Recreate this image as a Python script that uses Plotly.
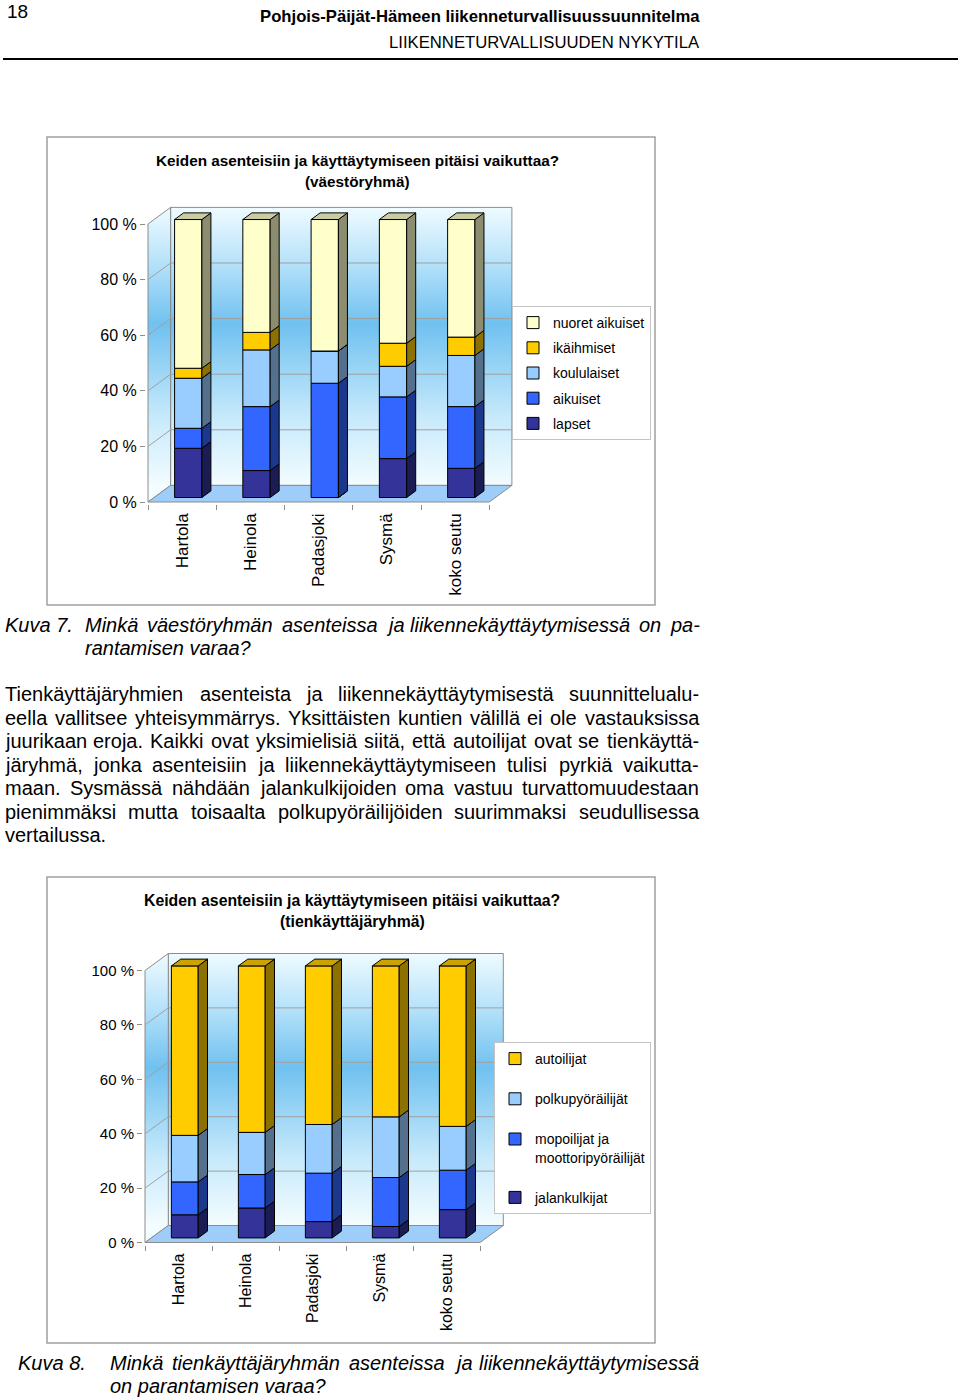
import numpy as np
import plotly.graph_objects as go

PAGE_W, PAGE_H = 960, 1399
FONT = "Liberation Sans, Arial, sans-serif"

# ---- data ----
places = ["Hartola", "Heinola", "Padasjoki", "Sysmä", "koko seutu"]
pct_ticks = [0, 20, 40, 60, 80, 100]
pct_labels = ["0 %", "20 %", "40 %", "60 %", "80 %", "100 %"]

# Kuva 7, väestöryhmät (bottom -> top), % of answers
groups7 = ["lapset", "aikuiset", "koululaiset", "ikäihmiset", "nuoret aikuiset"]
lapset = [17.7, 9.7, 0.0, 14.0, 10.5]
aikuiset = [7.2, 23.0, 41.1, 22.2, 22.2]
koululaiset = [18.0, 20.4, 11.6, 11.0, 18.4]
ikaihmiset = [3.6, 6.3, 0.0, 8.3, 6.6]
nuoret_aikuiset = [53.5, 40.6, 47.3, 44.5, 42.3]

# Kuva 8, tienkäyttäjäryhmät (bottom -> top)
groups8 = ["jalankulkijat", "mopoilijat ja<br>moottoripyöräilijät", "polkupyöräilijät", "autoilijat"]
jalankulkijat = [8.5, 11.0, 6.0, 4.2, 10.4]
mopoilijat = [12.1, 12.3, 17.8, 18.0, 14.5]
polkupyorailijat = [17.1, 15.5, 17.9, 22.3, 16.1]
autoilijat = [62.3, 61.2, 58.3, 55.5, 59.0]

colors7 = ["#333399", "#3366ff", "#99ccff", "#ffcc00", "#ffffcc"]
colors8 = ["#333399", "#3366ff", "#99ccff", "#ffcc00"]

header_title = "Pohjois-Päijät-Hämeen liikenneturvallisuussuunnitelma"
header_sub = "LIIKENNETURVALLISUUDEN NYKYTILA"
chart_title = "Keiden asenteisiin ja käyttäytymiseen pitäisi vaikuttaa?"
paragraph = [
    "Tienkäyttäjäryhmien asenteista ja liikennekäyttäytymisestä suunnittelualu-",
    "eella vallitsee yhteisymmärrys. Yksittäisten kuntien välillä ei ole vastauksissa",
    "juurikaan eroja. Kaikki ovat yksimielisiä siitä, että autoilijat ovat se tienkäyttä-",
    "järyhmä, jonka asenteisiin ja liikennekäyttäytymiseen tulisi pyrkiä vaikutta-",
    "maan. Sysmässä nähdään jalankulkijoiden oma vastuu turvattomuudestaan",
    "pienimmäksi mutta toisaalta polkupyöräilijöiden suurimmaksi seudullisessa",
    "vertailussa.",
]
paragraph_y = [694, 718, 741, 765, 788, 812, 835]

# Arial / Liberation Sans advance widths (1/1000 em), used for justified lines
ARIAL = dict(zip("abcdefghijklmnopqrstuvwxyzäö",
                 [556, 556, 500, 556, 556, 278, 556, 556, 222, 222, 500, 222, 833, 556,
                  556, 556, 556, 333, 500, 278, 556, 500, 722, 500, 500, 500, 556, 556]))
ARIAL.update({" ": 278, ".": 278, ",": 278, "-": 333, "?": 556,
              "K": 667, "M": 833, "T": 611, "Y": 667, "S": 667})

fig = go.Figure()


def pos(x, y):
    # page pixel -> paper fraction
    return x / PAGE_W, 1 - y / PAGE_H


def note(x, y, s, size, anchor="left"):
    px, py = pos(x, y)
    fig.add_annotation(x=px, y=py, xref="paper", yref="paper", text=s, showarrow=False,
                       xanchor=anchor, yanchor="middle", borderpad=0, borderwidth=0,
                       font=dict(family=FONT, size=size, color="black"))


def text_w(s, size):
    return sum(ARIAL.get(c, 556) for c in s) * size / 1000


def justified(x0, x1, y, line, size, italic=False):
    words = line.split()
    gap = (x1 - x0 - sum(text_w(w, size) for w in words)) / (len(words) - 1)
    x = x0
    for w in words:
        note(x, y, f"<i>{w}</i>" if italic else w, size)
        x += text_w(w, size) + gap


def shade(c, k):
    r, g, b = (int(c[i:i + 2], 16) for i in (1, 3, 5))
    return f"rgb({int(r * k)},{int(g * k)},{int(b * k)})"


wall_scale = [[0, "#f3fcff"], [0.25, "#c6e9fb"], [0.58, "#70c1f0"], [0.8, "#b6e2fa"], [1, "#effbff"]]


def add_chart(idx, series, names, colors, geo, legend_id, tick_size, label_size):
    # geo: front-left x px, category width px, 0 % y px, px per %, depth dx px, depth dy px
    X0, W, Y0, K, DX, DY = geo
    dx, dy = DX / W, DY / K
    pad = 2
    xr = [-pad / W, 5 + dx + pad / W]
    yr = [-pad / K, 100 + dy + pad / K]
    xdom = [(X0 + v * W) / PAGE_W for v in xr]
    ydom = [1 - (Y0 - v * K) / PAGE_H for v in yr]
    b, o = 2 * idx - 1, 2 * idx
    bx, by = ("x", "y") if b == 1 else (f"x{b}", f"y{b}")
    ox, oy = f"x{o}", f"y{o}"
    bkey = "" if b == 1 else str(b)

    fig.update_layout(**{
        f"xaxis{bkey}": dict(domain=xdom, range=xr, anchor=by, showgrid=False, zeroline=False,
                             showline=False, tickmode="array", tickvals=np.arange(5) + 0.5,
                             ticktext=places, tickangle=-90, ticks="", ticklabelstandoff=5,
                             tickfont=dict(family=FONT, size=label_size, color="black"),
                             minor=dict(ticks="outside", tickmode="array", tickvals=list(range(6)),
                                        ticklen=5, tickcolor="#8c8c8c", showgrid=False)),
        f"yaxis{bkey}": dict(domain=ydom, range=yr, anchor=bx, showgrid=False, zeroline=False,
                             showline=False, tickmode="array", tickvals=pct_ticks, ticktext=pct_labels,
                             ticks="outside", ticklen=5, tickcolor="#8c8c8c",
                             tickfont=dict(family=FONT, size=tick_size, color="black")),
        f"xaxis{o}": dict(overlaying=bx, anchor=oy, range=xr, visible=False),
        f"yaxis{o}": dict(overlaying=by, anchor=ox, range=yr, visible=False),
    })

    grad = dict(type="vertical", start=dy, stop=100 + dy, colorscale=wall_scale)
    edge = dict(color="#8c8c8c", width=1)
    # back wall, side wall, grid, floor
    fig.add_trace(go.Scatter(x=[dx, 5 + dx, 5 + dx, dx, dx], y=[dy, dy, 100 + dy, 100 + dy, dy],
                             fill="toself", fillgradient=grad, line=edge, mode="lines",
                             showlegend=False, hoverinfo="skip", xaxis=bx, yaxis=by))
    fig.add_trace(go.Scatter(x=[0, dx, dx, 0, 0], y=[0, dy, 100 + dy, 100, 0],
                             fill="toself", fillgradient=grad, line=edge, mode="lines",
                             showlegend=False, hoverinfo="skip", xaxis=bx, yaxis=by))
    gx, gy = [], []
    for v in pct_ticks[1:-1]:
        gx += [0, dx, 5 + dx, None]
        gy += [v, v + dy, v + dy, None]
    fig.add_trace(go.Scatter(x=gx, y=gy, mode="lines", line=dict(color="#a0a0a0", width=1),
                             showlegend=False, hoverinfo="skip", xaxis=bx, yaxis=by))
    fig.add_trace(go.Scatter(x=[0, 5, 5 + dx, dx, 0], y=[0, 0, dy, dy, 0],
                             fill="toself", fillcolor="#9dcdf8", line=edge, mode="lines",
                             showlegend=False, hoverinfo="skip", xaxis=bx, yaxis=by))

    # stacked 3-D bars: front faces as bars, sides and tops as polygons
    f, d, bw = 0.27, 0.40, 0.40
    xc = np.arange(5) + 0.5 + f * dx
    bottom = np.zeros(5)
    n = len(names)
    for k, (name, vals, col) in enumerate(zip(names, series, colors)):
        vals = np.array(vals, dtype=float)
        base = bottom + f * dy
        fig.add_trace(go.Bar(x=xc, y=vals, base=base, width=bw, name=name, legend=legend_id,
                             legendgroup=name, legendrank=n - k,
                             marker=dict(color=col, line=dict(color="black", width=1)),
                             hoverinfo="skip", xaxis=ox, yaxis=oy))
        sx, sy = [], []
        for i in range(5):
            xe = xc[i] + bw / 2
            sx += [xe, xe + d * dx, xe + d * dx, xe, xe, None]
            sy += [base[i], base[i] + d * dy, base[i] + vals[i] + d * dy, base[i] + vals[i], base[i], None]
        fig.add_trace(go.Scatter(x=sx, y=sy, fill="toself", fillcolor=shade(col, 0.55), mode="lines",
                                 line=dict(color="black", width=1), showlegend=False,
                                 hoverinfo="skip", xaxis=ox, yaxis=oy))
        bottom = bottom + vals
    tx, ty = [], []
    for i in range(5):
        xl, xe, t = xc[i] - bw / 2, xc[i] + bw / 2, bottom[i] + f * dy
        tx += [xl, xe, xe + d * dx, xl + d * dx, xl, None]
        ty += [t, t, t + d * dy, t + d * dy, t, None]
    fig.add_trace(go.Scatter(x=tx, y=ty, fill="toself", fillcolor=shade(colors[-1], 0.8), mode="lines",
                             line=dict(color="black", width=1), showlegend=False,
                             hoverinfo="skip", xaxis=ox, yaxis=oy))


add_chart(1, [lapset, aikuiset, koululaiset, ikaihmiset, nuoret_aikuiset], groups7, colors7,
          (148, 68.26, 502, 2.78, 22.6, 16.6), "legend", 16, 17)
add_chart(2, [jalankulkijat, mopoilijat, polkupyorailijat, autoilijat], groups8, colors8,
          (145, 67.0, 1242.5, 2.72, 23.3, 17.0), "legend2", 15, 16)

# chart frames
for top, bot in [(137, 605), (877, 1343)]:
    x0, y0 = pos(47, top)
    x1, y1 = pos(655, bot)
    fig.add_shape(type="rect", xref="paper", yref="paper", x0=x0, y0=y0, x1=x1, y1=y1,
                  line=dict(color="#a0a0a0", width=1.5))

# header
note(7, 12, "18", 19)
note(700, 17, f"<b>{header_title}</b>", 16.7, "right")
note(700, 43, header_sub, 16.7, "right")
lx0, ly = pos(3, 59)
lx1, _ = pos(958, 59)
fig.add_shape(type="line", xref="paper", yref="paper", x0=lx0, x1=lx1, y0=ly, y1=ly,
              line=dict(color="black", width=2))

# chart titles
note(357, 160, f"<b>{chart_title}</b>", 15.3, "center")
note(357, 181, "<b>(väestöryhmä)</b>", 15.3, "center")
note(352, 900, f"<b>{chart_title}</b>", 15.8, "center")
note(352, 921, "<b>(tienkäyttäjäryhmä)</b>", 15.8, "center")

# captions and body text
note(5, 625, "<i>Kuva 7.</i>", 20)
justified(85, 699, 625, "Minkä väestöryhmän asenteissa ja liikennekäyttäytymisessä on pa-", 20, italic=True)
note(85, 648, "<i>rantamisen varaa?</i>", 20)
for k, line in enumerate(paragraph):
    if k < len(paragraph) - 1:
        justified(5, 699, paragraph_y[k], line, 20)
    else:
        note(5, paragraph_y[k], line, 20)
note(18, 1363, "<i>Kuva 8.</i>", 20)
justified(110, 699, 1363, "Minkä tienkäyttäjäryhmän asenteissa ja liikennekäyttäytymisessä", 20, italic=True)
note(110, 1386, "<i>on parantamisen varaa?</i>", 20)

leg = dict(xanchor="right", yanchor="top", traceorder="grouped", bgcolor="white",
           bordercolor="#c4c4c4", borderwidth=1, valign="top",
           font=dict(family=FONT, size=14, color="black"))
lg1x, lg1y = pos(651, 306)
lg2x, lg2y = pos(651, 1042)
fig.update_layout(
    width=PAGE_W, height=PAGE_H, template="none",
    margin=dict(l=0, r=0, t=0, b=0),
    paper_bgcolor="white", plot_bgcolor="rgba(0,0,0,0)",
    barmode="overlay", hovermode=False,
    legend=dict(leg, x=lg1x, y=lg1y, tracegroupgap=4),
    legend2=dict(leg, x=lg2x, y=lg2y, tracegroupgap=19),
)

# the page is the printed sheet: drop the browser's default body margin
fig.write_html("out.html", config={"displayModeBar": False},
               post_script="document.body.style.margin = '0';")
